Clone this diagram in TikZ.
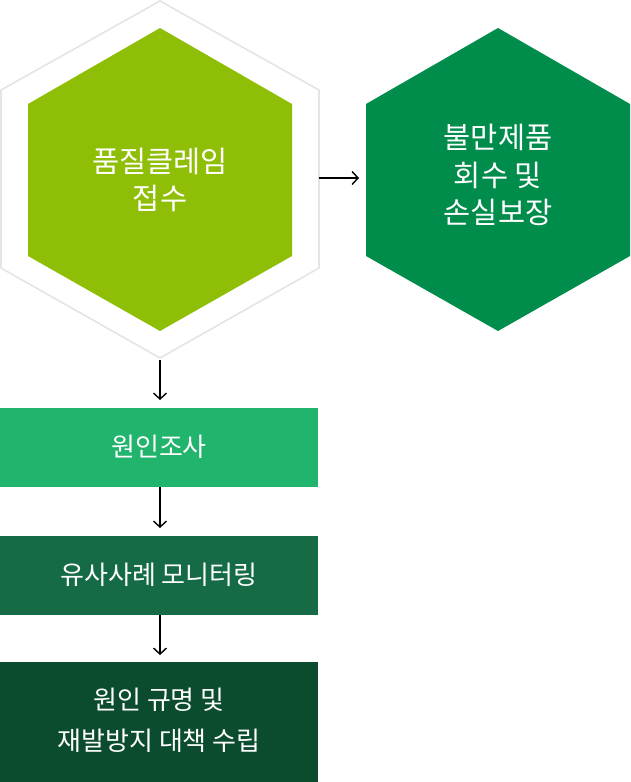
\documentclass[tikz,border=0pt]{standalone}
\usepackage{fontspec}
\setmainfont{Noto Sans CJK KR}
\usetikzlibrary{arrows.meta, positioning}
\definecolor{claimgreen}{HTML}{8EBE05}
\definecolor{hexgreen}{HTML}{008C4B}
\definecolor{stepone}{HTML}{20B46C}
\definecolor{steptwo}{HTML}{156B45}
\definecolor{stepthree}{HTML}{0B4C2E}
\definecolor{hexrim}{HTML}{E4E4E4}
\tikzset{
  flow/.style={-{Straight Barb[length=6pt,width=13pt]}, line width=1.4pt, black},
  hextext/.style={text=white, align=center, font=\fontsize{29.5}{37.5}\selectfont},
  boxtext/.style={text=white, align=center, font=\fontsize{26}{41}\selectfont}
}

\begin{document}
\begin{tikzpicture}[x=1pt, y=-1pt]
  \useasboundingbox (0,0) rectangle (630,782);
  % claim hexagon with light rim
  \draw[hexrim, line width=1.6pt] (160,1) -- (319,90) -- (319,268) -- (160,358) -- (1,268) -- (1,90) -- cycle;
  \fill[claimgreen] (160,28) -- (292,104) -- (292,256) -- (160,331) -- (28,256) -- (28,104) -- cycle;
  \node[hextext] (claim) at (160,180) {품질클레임\\접수};
  % recall hexagon
  \fill[hexgreen] (498,28) -- (630,104) -- (630,256) -- (498,331) -- (366,256) -- (366,104) -- cycle;
  \node[hextext] (recall) at (498,175) {불만제품\\회수 및\\손실보장};
  % process steps
  \fill[stepone] (0,408) rectangle (318,487);
  \node[boxtext] (cause) at (159,447) {원인조사};
  \fill[steptwo] (0,536) rectangle (318,615);
  \node[boxtext] (watch) at (159,575) {유사사례 모니터링};
  \fill[stepthree] (0,662) rectangle (318,782);
  \node[boxtext] (fix) at (159,720) {원인 규명 및\\재발방지 대책 수립};
  % connector ends
  \coordinate (rimR) at (319,178);
  \coordinate (hexL) at (359,178);
  \coordinate (rimB) at (160,360);
  \coordinate (oneT) at (160,400);
  \coordinate (oneB) at (160,487);
  \coordinate (twoT) at (160,528);
  \coordinate (twoB) at (160,615);
  \coordinate (threeT) at (160,655);
  \draw[flow] (rimR) -- (hexL);
  \draw[flow] (rimB) -- (oneT);
  \draw[flow] (oneB) -- (twoT);
  \draw[flow] (twoB) -- (threeT);
\end{tikzpicture}
\end{document}
